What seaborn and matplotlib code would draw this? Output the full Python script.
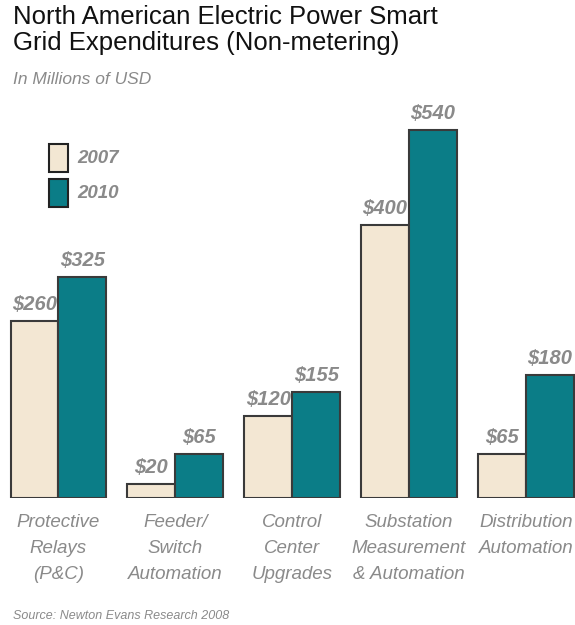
import pandas as pd
import seaborn as sns
import matplotlib.pyplot as plt

# Data
categories = ['Protective\nRelays\n(P&C)', 'Feeder/\nSwitch\nAutomation', 'Control\nCenter\nUpgrades',
              'Substation\nMeasurement\n& Automation', 'Distribution\nAutomation']
years = ['2007', '2010']
values_2007 = [260, 20, 120, 400, 65]
values_2010 = [325, 65, 155, 540, 180]

df = pd.DataFrame({
    'category': categories * 2,
    'year': [years[0]] * 5 + [years[1]] * 5,
    'value': values_2007 + values_2010,
})

sns.set_style('white')
plt.rcParams['font.family'] = ['Liberation Sans', 'DejaVu Sans']

fig = plt.figure(figsize=(5.75, 6.25), dpi=100)
ax = fig.add_axes([0, 0.2032, 1, 0.6368])

palette = {'2007': '#f3e7d3', '2010': '#0b7d87'}
sns.barplot(data=df, x='category', y='value', hue='year', palette=palette,
            width=0.82, edgecolor='#3a3a3a', linewidth=1.5, saturation=1,
            ax=ax, legend=False)

ax.set_xlim(-0.5, 4.42)
ax.set_ylim(0, 584)
ax.axis('off')

grey = '#8a8a8a'
# value labels
for cont in ax.containers:
    ax.bar_label(cont, labels=[f'${int(v)}' for v in cont.datavalues], padding=5,
                 color=grey, fontsize=14.5, fontweight='bold', fontstyle='italic')

# category labels under the groups
for i, cat in enumerate(categories):
    ax.text(i, -24, cat, ha='center', va='top', color=grey, fontsize=13.5,
            fontstyle='italic', linespacing=1.68)

# titles
fig.text(0.022, 0.992, 'North American Electric Power Smart\nGrid Expenditures (Non-metering)',
         ha='left', va='top', fontsize=18.5, color='#111111', linespacing=1.1)
fig.text(0.022, 0.872, 'In Millions of USD', ha='left', va='center', fontsize=12.5,
         fontstyle='italic', color=grey)
fig.text(0.022, 0.015, 'Source: Newton Evans Research 2008', ha='left', va='center',
         fontsize=9, fontstyle='italic', color=grey)

# legend
for j, yr in enumerate(years):
    yy = 0.747 - j * 0.056
    fig.patches.append(plt.Rectangle((0.085, yy - 0.022), 0.033, 0.044, transform=fig.transFigure,
                                     facecolor=palette[yr], edgecolor='#222222', linewidth=1.5))
    fig.text(0.135, yy, yr, ha='left', va='center', fontsize=13.5, fontweight='bold',
             fontstyle='italic', color=grey)

plt.savefig('out.png', dpi=100)
